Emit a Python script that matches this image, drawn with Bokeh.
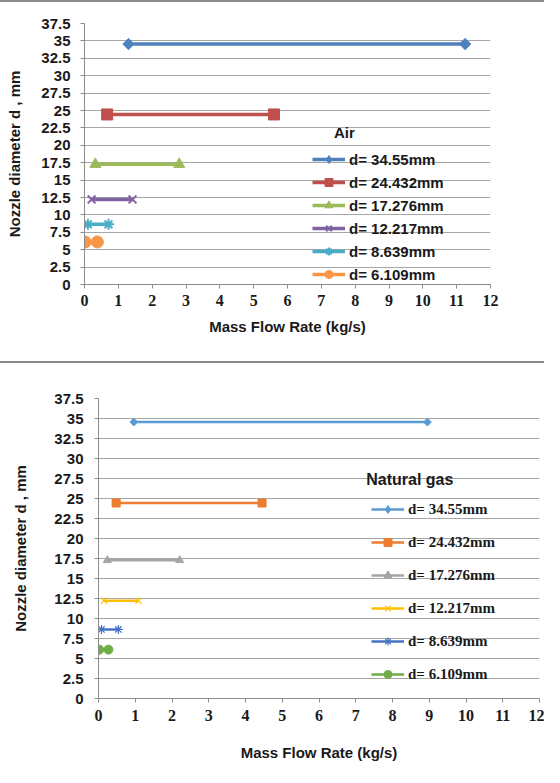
from bokeh.plotting import figure
from bokeh.models import Range1d, FixedTicker, Legend, LegendItem, Label, ColumnDataSource, Div, Spacer
from bokeh.layouts import column, row
from bokeh.embed import file_html
from bokeh.resources import INLINE

# ---------------- data ----------------
diameters = [34.55, 24.432, 17.276, 12.217, 8.639, 6.109]
legend_labels = ["d= 34.55mm", "d= 24.432mm", "d= 17.276mm",
                 "d= 12.217mm", "d= 8.639mm", "d= 6.109mm"]

air_min = [1.30, 0.67, 0.32, 0.21, 0.10, 0.02]
air_max = [11.25, 5.60, 2.80, 1.42, 0.71, 0.38]

gas_min = [0.96, 0.48, 0.24, 0.15, 0.08, 0.02]
gas_max = [8.95, 4.45, 2.21, 1.09, 0.54, 0.27]

y_ticks = [0, 2.5, 5, 7.5, 10, 12.5, 15, 17.5, 20, 22.5, 25, 27.5, 30, 32.5, 35, 37.5]
x_ticks = list(range(0, 13))

x_title = "Mass Flow Rate (kg/s)"
y_title = "Nozzle diameter d , mm"

# ---------------- styles ----------------
air_colors = ["#4F81BD", "#C0504D", "#9BBB59", "#8064A2", "#4BACC6", "#F79646"]
gas_colors = ["#5B9BD5", "#ED7D31", "#A5A5A5", "#FFC000", "#4472C4", "#70AD47"]
markers = ["square", "square", "triangle", "x", "asterisk", "circle"]
angles = [0.785398, 0, 0, 0, 0, 0]
legend_markers = ["diamond", "square", "triangle", "x", "asterisk", "circle"]

SANS = "Liberation Sans"
SERIF = "Liberation Serif"
GRID = "#a6a6a6"
AXIS = "#8c8c8c"
TXT = "#1a1a1a"
NAN = float("nan")


def make_panel(mins, maxs, colors, width, height, borders, line_w, msizes, mline,
               legend_loc, legend_spacing, legend_font, title_text, title_pos,
               y_label_standoff, x_label_standoff, x_tick_standoff, y_tick_standoff):
    bt, bb, bl, br = borders
    p = figure(width=width, height=height, output_backend="svg", toolbar_location=None,
               title=None, x_range=Range1d(0, 12), y_range=Range1d(0, 37.5),
               min_border_top=bt, min_border_bottom=bb, min_border_left=bl, min_border_right=br,
               margin=0)
    p.outline_line_color = None
    p.xgrid.grid_line_color = None
    p.ygrid.grid_line_color = GRID
    p.ygrid.grid_line_width = 1
    p.ygrid.ticker = FixedTicker(ticks=y_ticks)

    xa = p.xaxis[0]
    ya = p.yaxis[0]
    ya.ticker = FixedTicker(ticks=y_ticks)
    ya.major_label_overrides = {v: f"{v:g}" for v in y_ticks}
    xa.ticker = FixedTicker(ticks=x_ticks)
    for ax in (xa, ya):
        ax.axis_line_color = AXIS
        ax.major_tick_line_color = AXIS
        ax.major_tick_in = 0
        ax.major_tick_out = 4
        ax.minor_tick_line_color = None
        ax.axis_label_text_font = SANS
        ax.axis_label_text_font_style = "bold"
        ax.axis_label_text_font_size = "15px"
        ax.axis_label_text_color = TXT
        ax.major_label_text_color = TXT
        ax.major_label_text_font_style = "bold"
        ax.major_label_text_font_size = "15px"
    ya.major_label_text_font = SANS
    xa.major_label_text_font = SERIF
    xa.major_label_text_font_size = "16px"
    xa.axis_label = x_title
    ya.axis_label = y_title
    ya.axis_label_standoff = y_label_standoff
    xa.axis_label_standoff = x_label_standoff
    xa.major_label_standoff = x_tick_standoff
    ya.major_label_standoff = y_tick_standoff

    items = []
    for i, d in enumerate(diameters):
        src = ColumnDataSource(dict(x=[mins[i], maxs[i]], y=[d, d]))
        ln = p.line("x", "y", source=src, line_color=colors[i], line_width=line_w)
        filled = markers[i] in ("square", "triangle", "circle")
        style = dict(fill_color=colors[i] if filled else None,
                     line_color=colors[i], line_width=mline if not filled else 1)
        sc = p.scatter("x", "y", source=src, marker=markers[i], size=msizes[i],
                       angle=angles[i], **style)
        if legend_markers[i] != markers[i]:
            # key-only glyph (nothing drawn in the plot) so the legend shows a diamond
            key = p.scatter("x", "y", source=ColumnDataSource(dict(x=[NAN], y=[NAN])),
                            marker=legend_markers[i], size=msizes[i] * 1.3,
                            fill_color=colors[i], line_color=colors[i])
            items.append(LegendItem(label=legend_labels[i], renderers=[ln, key]))
        else:
            items.append(LegendItem(label=legend_labels[i], renderers=[ln, sc]))

    leg = Legend(items=items, location=legend_loc, padding=0, margin=0,
                 spacing=legend_spacing, glyph_width=33, glyph_height=20,
                 label_height=20, label_standoff=4,
                 border_line_color=None, background_fill_alpha=0,
                 label_text_font=legend_font, label_text_font_style="bold",
                 label_text_font_size="15px", label_text_color=TXT)
    p.add_layout(leg)

    p.add_layout(Label(x=title_pos[0], y=title_pos[1], text=title_text,
                       text_align="center", text_baseline="middle",
                       text_font=SANS, text_font_style="bold",
                       text_font_size=title_pos[2], text_color=TXT))
    return p


p_air = make_panel(air_min, air_max, air_colors, 544, 359, (21, 77, 84, 54), 3.5,
                   [8, 11, 11, 11, 11, 12], 2,
                   (228, 0), 3, SANS, "Air", (7.68, 21.9, "15px"),
                   15, 9, 6, 10)

p_gas = make_panel(gas_min, gas_max, gas_colors, 535, 400, (35, 64, 84, 5), 2.5,
                   [5.5, 8, 8, 9, 9, 9], 1.2,
                   (273, 14), 13, SERIF, "Natural gas", (8.47, 27.4, "16px"),
                   22, 20, 7, 11)

line_top = Div(text="", width=544, height=2, margin=0,
               styles={"background-color": "#8c8c8c"})
line_mid = Div(text="", width=544, height=2, margin=0,
               styles={"background-color": "#8c8c8c"})

layout = column(line_top, p_air, line_mid,
                row(Spacer(width=9, height=400, margin=0), p_gas, margin=0),
                margin=0, spacing=0)

open("out.html", "w").write(file_html(layout, INLINE))
